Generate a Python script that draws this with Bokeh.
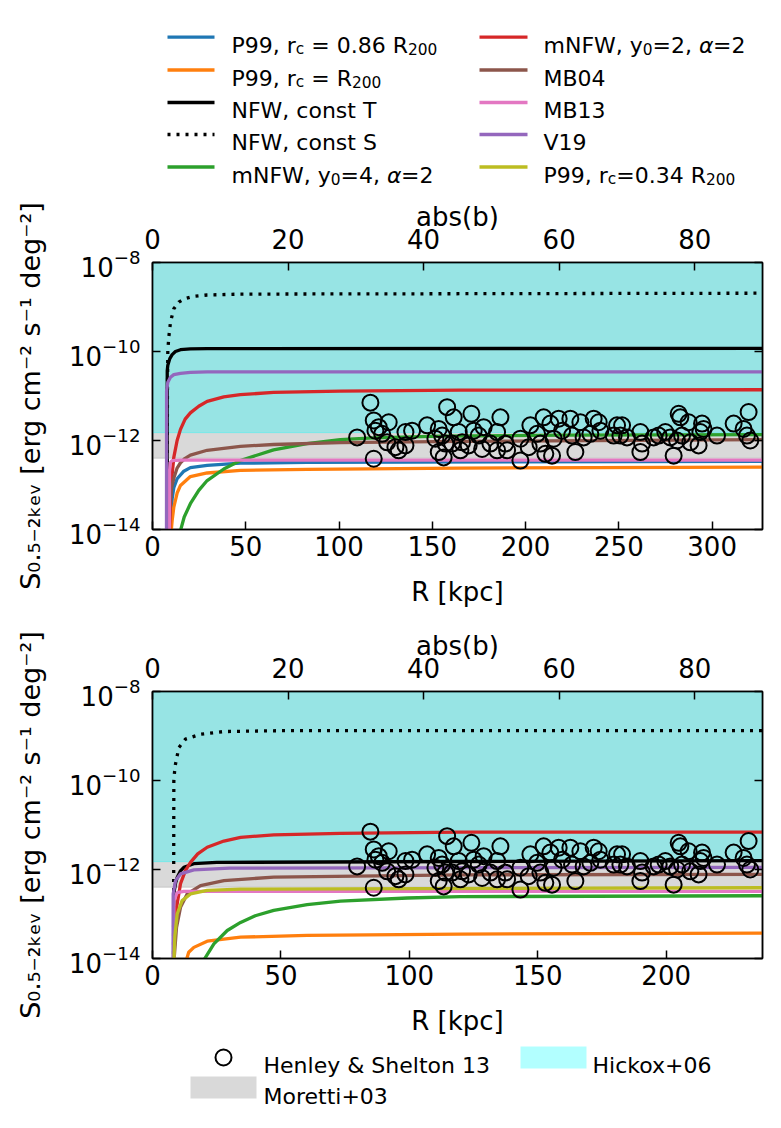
from bokeh.plotting import figure
from bokeh.layouts import column
from bokeh.models import (Range1d, LinearAxis, LogAxis, FixedTicker,
                          CustomJSTickFormatter, BoxAnnotation)
from bokeh.core.properties import value
from bokeh.embed import file_html
from bokeh.resources import INLINE

FONT = "DejaVu Sans"

# ------------------------------------------------------------------ data
Y_TICKS = [1e-14, 1e-12, 1e-10, 1e-8]
B_TICKS = [0, 20, 40, 60, 80]
TOP_R_TICKS = [0, 50, 100, 150, 200, 250, 300]
BOT_R_TICKS = [0, 50, 100, 150, 200]
TOP_R_MAX = 327
BOT_R_MAX = 237.5
B_MAX = 90
HICKOX_LOW = 1.5e-12
MORETTI_LOW = 4.0e-13

# top panel curves (R in kpc, log10 S)
TOP_P99_086_R = [9.5, 10.0, 10.53, 11.42, 13.2, 16.8, 20.3, 29.3, 47.1, 82.8, 327]
TOP_P99_086_LOG = [-14.1, -13.65, -13.31, -13.06, -12.86, -12.69, -12.61, -12.56, -12.51, -12.49, -12.47]
TOP_P99_R200_R = [9.9, 10.53, 11.42, 13.2, 15.0, 20.3, 29.3, 47.1, 82.8, 165, 327]
TOP_P99_R200_LOG = [-14.1, -13.80, -13.50, -13.18, -13.01, -12.81, -12.73, -12.67, -12.65, -12.62, -12.60]
TOP_NFW_T_R = [7.85, 7.9, 8.21, 9.28, 10.53, 12.3, 15.0, 20.3, 29.3, 327]
TOP_NFW_T_LOG = [-14.1, -10.43, -10.31, -10.16, -10.07, -10.0, -9.96, -9.94, -9.935, -9.93]
TOP_NFW_S_R = [7.9, 8.0, 8.21, 8.74, 9.64, 11.42, 14.1, 16.8, 22.1, 29.3, 47.1, 327]
TOP_NFW_S_LOG = [-14.1, -11.0, -9.98, -9.68, -9.34, -9.04, -8.89, -8.82, -8.76, -8.73, -8.71, -8.69]
TOP_MNFW4_R = [14.5, 17.0, 20.3, 24.8, 29.3, 38.2, 47.1, 64.9, 82.8, 100.6, 118.4, 154.2, 220, 327]
TOP_MNFW4_LOG = [-14.1, -13.72, -13.42, -13.12, -12.90, -12.64, -12.45, -12.21, -12.07, -11.98, -11.94, -11.90, -11.88, -11.87]
TOP_MNFW2_R = [9.1, 9.64, 10.1, 11.42, 13.2, 15.0, 17.5, 20.3, 24.8, 29.3, 38.2, 47.1, 64.9, 100.6, 165, 327]
TOP_MNFW2_LOG = [-14.1, -13.42, -12.95, -12.38, -12.0, -11.75, -11.52, -11.38, -11.23, -11.12, -11.02, -10.97, -10.92, -10.89, -10.87, -10.86]
TOP_MB04_R = [8.9, 9.28, 10.0, 11.42, 13.2, 15.0, 17.5, 20.3, 29.3, 47.1, 64.9, 100.6, 165, 327]
TOP_MB04_LOG = [-14.1, -13.42, -13.1, -12.85, -12.62, -12.5, -12.4, -12.33, -12.22, -12.13, -12.09, -12.05, -12.02, -11.98]
TOP_MB13_R = [9.05, 9.1, 9.5, 10.5, 15.0, 327]
TOP_MB13_LOG = [-14.1, -12.7, -12.5, -12.45, -12.44, -12.44]
TOP_V19_R = [7.5, 7.55, 8.21, 9.64, 11.42, 15.0, 20.3, 29.3, 327]
TOP_V19_LOG = [-14.1, -10.88, -10.69, -10.58, -10.52, -10.49, -10.47, -10.46, -10.46]

# bottom panel curves
BOT_P99_R200_R = [12.85, 14.1, 16.1, 21.3, 34.3, 60.2, 119.9, 237.5]
BOT_P99_R200_LOG = [-14.1, -13.86, -13.75, -13.61, -13.52, -13.48, -13.45, -13.43]
BOT_NFW_T_R = [8.3, 8.31, 9.0, 9.61, 10.9, 12.2, 16.1, 25, 119.9, 237.5]
BOT_NFW_T_LOG = [-14.1, -12.55, -12.3, -12.18, -12.03, -11.95, -11.87, -11.84, -11.82, -11.80]
BOT_NFW_S_R = [8.2, 8.31, 8.6, 8.96, 10.26, 12.85, 18.7, 27.8, 50, 237.5]
BOT_NFW_S_LOG = [-14.1, -10.0, -9.8, -9.63, -9.26, -9.07, -8.96, -8.90, -8.88, -8.88]
BOT_MNFW4_R = [19.3, 23.9, 29.1, 34.3, 40.0, 47.2, 60.2, 73.2, 99.2, 119.9, 237.5]
BOT_MNFW4_LOG = [-14.1, -13.67, -13.37, -13.19, -13.04, -12.92, -12.79, -12.71, -12.64, -12.61, -12.59]
BOT_MNFW2_R = [8.3, 8.96, 10.9, 12.85, 14.8, 17.6, 21.3, 27.8, 34.3, 47.2, 73.2, 119.9, 237.5]
BOT_MNFW2_LOG = [-14.1, -13.0, -12.32, -12.02, -11.84, -11.65, -11.50, -11.36, -11.28, -11.22, -11.19, -11.16, -11.16]
BOT_MB04_R = [8.3, 9.35, 10.9, 13.5, 18.7, 27.8, 47.2, 119.9, 237.5]
BOT_MB04_LOG = [-14.1, -13.30, -12.85, -12.55, -12.36, -12.25, -12.17, -12.12, -12.11]
BOT_MB13_R = [8.3, 8.31, 9.61, 12.2, 237.5]
BOT_MB13_LOG = [-14.1, -12.7, -12.52, -12.49, -12.49]
BOT_V19_R = [8.0, 8.05, 8.96, 10.9, 16.1, 30, 237.5]
BOT_V19_LOG = [-14.1, -12.55, -12.25, -12.10, -12.01, -11.97, -11.95]
BOT_P99_034_R = [8.3, 8.7, 9.61, 11.53, 14.8, 21.3, 34.3, 237.5]
BOT_P99_034_LOG = [-14.1, -13.5, -13.0, -12.70, -12.55, -12.47, -12.44, -12.41]

# Henley & Shelton 13 observations: abs(b) [deg], log10 S
HS_B = [32.15, 30.19, 32.64, 32.64, 33.38, 32.89, 34.85, 33.88, 34.62, 35.84,
        36.33, 37.32, 37.32, 38.30, 40.52, 43.47, 44.44, 47.05, 42.23, 41.74,
        42.73, 43.22, 42.23, 42.96, 45.18, 45.68, 45.43, 47.39, 48.13, 48.63,
        44.20, 46.65, 51.33, 48.86, 50.84, 49.85, 50.84, 52.06, 52.32, 54.28,
        54.28, 55.75, 55.50, 56.74, 57.71, 57.23, 57.96, 58.95, 58.70, 59.93,
        59.19, 60.43, 61.65, 62.39, 61.90, 63.13, 63.61, 65.09, 65.83, 66.08,
        64.60, 68.54, 68.04, 69.28, 69.03, 70.01, 71.98, 72.23, 71.98, 73.94,
        74.68, 75.66, 76.40, 76.89, 77.63, 77.88, 79.10, 77.39, 78.13, 79.35,
        81.08, 80.83, 80.57, 81.31, 83.29, 85.74, 87.95, 87.21, 87.71, 88.20]
HS_LOG = [-11.15, -11.93, -12.41, -11.55, -11.70, -11.78, -11.59, -11.85, -12.04, -12.15,
          -12.22, -12.11, -11.81, -11.78, -11.66, -11.25, -11.48, -11.40, -11.74, -11.96,
          -11.89, -12.07, -12.26, -12.38, -11.81, -12.04, -12.22, -11.78, -11.89, -12.19,
          -12.07, -12.11, -11.48, -11.70, -11.81, -12.07, -12.22, -12.07, -12.22, -12.45,
          -11.96, -11.66, -12.15, -11.85, -11.48, -12.07, -12.30, -12.34, -11.62, -11.51,
          -11.96, -11.78, -11.51, -12.26, -11.89, -11.59, -11.93, -11.51, -11.59, -11.78,
          -11.85, -11.66, -11.89, -11.66, -11.89, -11.93, -11.81, -12.07, -12.26, -11.93,
          -11.89, -11.81, -11.93, -12.34, -11.40, -11.48, -11.59, -12.00, -11.89, -12.04,
          -11.62, -11.81, -12.11, -11.74, -11.89, -11.62, -11.36, -11.74, -11.89, -12.00]

# ------------------------------------------------------------------ styles
BLUE, ORANGE, GREEN, RED = "#1f77b4", "#ff7f0e", "#2ca02c", "#d62728"
PURPLE, BROWN, PINK, OLIVE = "#9467bd", "#8c564b", "#e377c2", "#bcbd22"
DOT = "3 6"
LW = 3.3
TICK_FS = "26px"
YLABEL_FS = "27px"
LEG_FS = 22.0
YLABEL = "S\u2080.\u2085\u208b\u2082\u2096\u2091\u1d65 [erg cm\u207b\u00b2 s\u207b\u00b9 deg\u207b\u00b2]"
W = 773
FRAME_L, FRAME_R = 152, 762


def style_axis(ax):
    ax.axis_line_color = "black"
    ax.axis_line_width = 1.5
    ax.major_tick_in = 8
    ax.major_tick_out = 0
    ax.major_tick_line_width = 1.5
    ax.major_tick_line_color = "black"
    ax.minor_tick_line_color = None
    ax.major_label_text_font = FONT
    ax.major_label_text_font_size = TICK_FS
    ax.major_label_text_color = "black"
    ax.axis_label_text_font = FONT
    ax.axis_label_text_font_size = TICK_FS
    ax.axis_label_text_font_style = "normal"
    ax.axis_label_text_color = "black"


def make_panel(height, btop, bbot, rmax, rticks, curves):
    p = figure(width=W, height=height, x_range=Range1d(0, rmax),
               y_range=Range1d(1e-14, 1e-8), y_axis_type="log",
               output_backend="svg", toolbar_location=None,
               min_border_left=FRAME_L, min_border_right=W - FRAME_R,
               min_border_top=btop, min_border_bottom=bbot,
               background_fill_color="white", border_fill_color="white")
    p.grid.visible = False
    p.outline_line_color = "black"
    p.outline_line_width = 1.5
    p.extra_x_ranges = {"b": Range1d(0, B_MAX)}

    bx = p.below[0]
    ly = p.left[0]
    bx.ticker = FixedTicker(ticks=rticks, minor_ticks=[])
    bx.axis_label = "R [kpc]"
    bx.major_label_standoff = 6
    bx.axis_label_standoff = 18
    ly.ticker = FixedTicker(ticks=Y_TICKS, minor_ticks=[])
    ly.axis_label = YLABEL
    ly.major_label_standoff = 12
    ly.axis_label_standoff = 20

    top = LinearAxis(x_range_name="b", axis_label="abs(b)",
                     ticker=FixedTicker(ticks=B_TICKS, minor_ticks=[]))
    top.major_label_standoff = 14
    top.axis_label_standoff = -6
    p.add_layout(top, "above")
    right = LogAxis(ticker=FixedTicker(ticks=Y_TICKS, minor_ticks=[]),
                    formatter=CustomJSTickFormatter(code="return '';"))
    p.add_layout(right, "right")
    for ax in (bx, ly, top, right):
        style_axis(ax)
    ly.axis_label_text_font_size = YLABEL_FS

    p.add_layout(BoxAnnotation(bottom=MORETTI_LOW, fill_color="#808080", fill_alpha=0.3,
                               line_color="#808080", line_alpha=0.3, line_width=1,
                               level="underlay"))
    p.add_layout(BoxAnnotation(bottom=HICKOX_LOW, fill_color="#00ffff", fill_alpha=0.3,
                               line_color="#00ffff", line_alpha=0.3, line_width=1,
                               level="underlay"))

    for rs, logs, color, dash in curves:
        p.line(rs, [10 ** v for v in logs], line_color=color, line_width=LW,
               line_dash=dash)
    p.scatter(HS_B, [10 ** v for v in HS_LOG], x_range_name="b", marker="circle",
              size=16, fill_color=None, line_color="black", line_width=2)
    return p


top_curves = [
    (TOP_P99_086_R, TOP_P99_086_LOG, BLUE, "solid"),
    (TOP_P99_R200_R, TOP_P99_R200_LOG, ORANGE, "solid"),
    (TOP_NFW_T_R, TOP_NFW_T_LOG, "black", "solid"),
    (TOP_NFW_S_R, TOP_NFW_S_LOG, "black", DOT),
    (TOP_MNFW4_R, TOP_MNFW4_LOG, GREEN, "solid"),
    (TOP_MNFW2_R, TOP_MNFW2_LOG, RED, "solid"),
    (TOP_MB04_R, TOP_MB04_LOG, BROWN, "solid"),
    (TOP_MB13_R, TOP_MB13_LOG, PINK, "solid"),
    (TOP_V19_R, TOP_V19_LOG, PURPLE, "solid"),
]
bot_curves = [
    (BOT_P99_R200_R, BOT_P99_R200_LOG, ORANGE, "solid"),
    (BOT_NFW_T_R, BOT_NFW_T_LOG, "black", "solid"),
    (BOT_NFW_S_R, BOT_NFW_S_LOG, "black", DOT),
    (BOT_MNFW4_R, BOT_MNFW4_LOG, GREEN, "solid"),
    (BOT_MNFW2_R, BOT_MNFW2_LOG, RED, "solid"),
    (BOT_MB04_R, BOT_MB04_LOG, BROWN, "solid"),
    (BOT_MB13_R, BOT_MB13_LOG, PINK, "solid"),
    (BOT_V19_R, BOT_V19_LOG, PURPLE, "solid"),
    (BOT_P99_034_R, BOT_P99_034_LOG, OLIVE, "solid"),
]

p_top = make_panel(422, 74, 81, TOP_R_MAX, TOP_R_TICKS, top_curves)
p_bot = make_panel(430, 81, 82, BOT_R_MAX, BOT_R_TICKS, bot_curves)

# ------------------------------------------------------------------ legends
ADV = {' ': 651, ',': 651, '.': 651, '=': 1716, '+': 1716, '&': 1595,
       'P': 1235, 'R': 1423, 'N': 1532, 'F': 1178, 'W': 2025, 'M': 1767, 'B': 1405,
       'V': 1401, 'S': 1300, 'T': 1251, 'H': 1540, 'a': 1255, 'c': 1126, 'e': 1260,
       'i': 569, 'k': 1186, 'l': 569, 'm': 1995, 'n': 1298, 'o': 1253, 'r': 842,
       's': 1067, 't': 803, 'x': 1212, 'y': 1212, 'h': 1298, '\u03b1': 1300}
for d in "0123456789":
    ADV[d] = 1303


def seg_width(t, size):
    return sum(ADV.get(c, 1250) for c in t) / 2048.0 * size


def draw_label(fig, x, base_y, segs, size):
    cx = x
    for t, kind in segs:
        fs = size * 0.7 if kind == "sub" else size
        body = t.lstrip(" ")
        cx += seg_width(t[:len(t) - len(body)], fs)   # leading blanks are collapsed in SVG
        fig.text(x=[cx], y=[base_y + (4 if kind == "sub" else 0)], text=[body],
                 text_font=value(FONT), text_font_size=f"{fs:.1f}px",
                 text_font_style="italic" if kind == "it" else "normal",
                 text_baseline="alphabetic", text_align="left", text_color="black")
        cx += seg_width(body, fs)


def blank_fig(y_top, y_bottom):
    # frame aligned with the panels; 1 data unit == 1 page pixel
    f = figure(width=W, height=y_bottom - y_top,
               x_range=Range1d(FRAME_L, FRAME_R), y_range=Range1d(y_bottom, y_top),
               output_backend="svg", toolbar_location=None,
               x_axis_location=None, y_axis_location=None,
               min_border_left=FRAME_L, min_border_right=W - FRAME_R,
               min_border_top=0, min_border_bottom=0,
               outline_line_color=None, background_fill_color="white",
               border_fill_color="white")
    f.grid.visible = False
    return f


leg_top = blank_fig(0, 188)
TOP_ITEMS = [
    (0, 0, BLUE, "solid", [("P99, r", "n"), ("c", "sub"), (" = 0.86 R", "n"), ("200", "sub")]),
    (0, 1, ORANGE, "solid", [("P99, r", "n"), ("c", "sub"), (" = R", "n"), ("200", "sub")]),
    (0, 2, "black", "solid", [("NFW, const T", "n")]),
    (0, 3, "black", DOT, [("NFW, const S", "n")]),
    (0, 4, GREEN, "solid", [("mNFW, y", "n"), ("0", "sub"), ("=4, ", "n"), ("\u03b1", "it"), ("=2", "n")]),
    (1, 0, RED, "solid", [("mNFW, y", "n"), ("0", "sub"), ("=2, ", "n"), ("\u03b1", "it"), ("=2", "n")]),
    (1, 1, BROWN, "solid", [("MB04", "n")]),
    (1, 2, PINK, "solid", [("MB13", "n")]),
    (1, 3, PURPLE, "solid", [("V19", "n")]),
    (1, 4, OLIVE, "solid", [("P99, r", "n"), ("c", "sub"), ("=0.34 R", "n"), ("200", "sub")]),
]
COLS = [(167, 214, 231), (479, 527, 543)]
ROWS = [36.7, 69.5, 102.0, 134.0, 166.5]
for c, r, color, dash, segs in TOP_ITEMS:
    x0, x1, xt = COLS[c]
    y = ROWS[r]
    leg_top.line([x0, x1], [y, y], line_color=color, line_width=LW, line_dash=dash)
    draw_label(leg_top, xt, y + 8, segs, LEG_FS)

leg_bot = blank_fig(1040, 1120)
leg_bot.scatter([223], [1057], marker="circle", size=16, fill_color=None,
                line_color="black", line_width=2)
draw_label(leg_bot, 263, 1065, [("Henley & Shelton 13", "n")], LEG_FS)
leg_bot.quad(left=[520], right=[586], top=[1046], bottom=[1068], fill_color="#00ffff",
             fill_alpha=0.3, line_color=None)
draw_label(leg_bot, 592, 1065, [("Hickox+06", "n")], LEG_FS)
leg_bot.quad(left=[190], right=[256], top=[1076], bottom=[1098], fill_color="#808080",
             fill_alpha=0.3, line_color=None)
draw_label(leg_bot, 263, 1095.5, [("Moretti+03", "n")], LEG_FS)

layout = column(leg_top, p_top, p_bot, leg_bot, spacing=0)
open("out.html", "w").write(file_html(layout, INLINE, title="plot"))
